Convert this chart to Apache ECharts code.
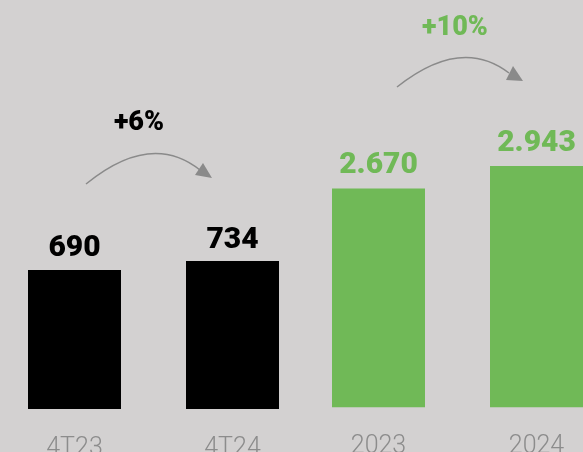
<!DOCTYPE html>
<html>
<head>
<meta charset="utf-8">
<script src="https://cdn.jsdelivr.net/npm/echarts@6/dist/echarts.min.js"></script>
<style>
html,body{margin:0;padding:0;background:#d3d1d1;}
#c{width:583px;height:452px;}
</style>
</head>
<body>
<div id="c"></div>
<script>
var quarterCats = ['4T23', '4T24'];
var quarterValues = [690, 734];
var yearCats = ['2023', '2024'];
var yearValues = [2670, 2943];
var quarterGrowth = '+6%';
var yearGrowth = '+10%';

function fmt(v) {
  return String(v).replace(/\B(?=(\d{3})+(?!\d))/g, '.');
}

var GREEN = '#70b957';
var GRAY_AX = '#8a8a8a';
var FONT = 'Roboto';

var chart = echarts.init(document.getElementById('c'), null, {renderer: 'canvas'});

var xAxisCommon = {
  type: 'category',
  axisLine: {show: false},
  axisTick: {show: false},
  axisLabel: {color: '#8c8c8c', fontSize: 25, fontWeight: 300, fontFamily: FONT, margin: 27}
};
var yAxisCommon = {
  type: 'value', min: 0, show: false, splitLine: {show: false}
};

chart.setOption({
  backgroundColor: '#d3d1d1',
  animation: false,
  grid: [
    {left: -4.5, width: 316, top: 0, bottom: 43, containLabel: false, outerBoundsMode: 'none'},
    {left: 299.5, width: 316, top: 0, bottom: 44.7, containLabel: false, outerBoundsMode: 'none'}
  ],
  xAxis: [
    Object.assign({gridIndex: 0, data: quarterCats}, xAxisCommon),
    Object.assign({gridIndex: 1, data: yearCats}, xAxisCommon)
  ],
  yAxis: [
    Object.assign({gridIndex: 0, max: 2030}, yAxisCommon),
    Object.assign({gridIndex: 1, max: 4970}, yAxisCommon)
  ],
  series: [
    {
      type: 'bar', xAxisIndex: 0, yAxisIndex: 0, data: quarterValues, barWidth: 93,
      itemStyle: {color: '#000000'},
      label: {show: true, position: 'top', distance: 6, color: '#000', fontSize: 30, fontWeight: 900, fontFamily: FONT,
        formatter: function (p) { return fmt(p.value); }}
    },
    {
      type: 'bar', xAxisIndex: 1, yAxisIndex: 1, data: yearValues, barWidth: 93,
      itemStyle: {color: GREEN},
      label: {show: true, position: 'top', distance: 8, color: GREEN, fontSize: 30, fontWeight: 900, fontFamily: FONT,
        formatter: function (p) { return fmt(p.value); }}
    }
  ],
  graphic: [
    {type: 'bezierCurve', shape: {x1: 86, y1: 184, x2: 200, y2: 170, cpx1: 151, cpy1: 131},
      style: {stroke: GRAY_AX, lineWidth: 1.5, fill: null}},
    {type: 'polygon', shape: {points: [[212, 178], [195, 175], [203, 163]]}, style: {fill: GRAY_AX}},
    {type: 'text', x: 139, y: 123, style: {text: quarterGrowth, fill: '#000', font: '900 27px Roboto', textAlign: 'center', textVerticalAlign: 'middle'}},
    {type: 'bezierCurve', shape: {x1: 397, y1: 87, x2: 509, y2: 73, cpx1: 461, cpy1: 36},
      style: {stroke: GRAY_AX, lineWidth: 1.5, fill: null}},
    {type: 'polygon', shape: {points: [[523, 81], [506, 80], [513, 66]]}, style: {fill: GRAY_AX}},
    {type: 'text', x: 455, y: 28, style: {text: yearGrowth, fill: GREEN, font: '900 27px Roboto', textAlign: 'center', textVerticalAlign: 'middle'}}
  ]
});
</script>
</body>
</html>
